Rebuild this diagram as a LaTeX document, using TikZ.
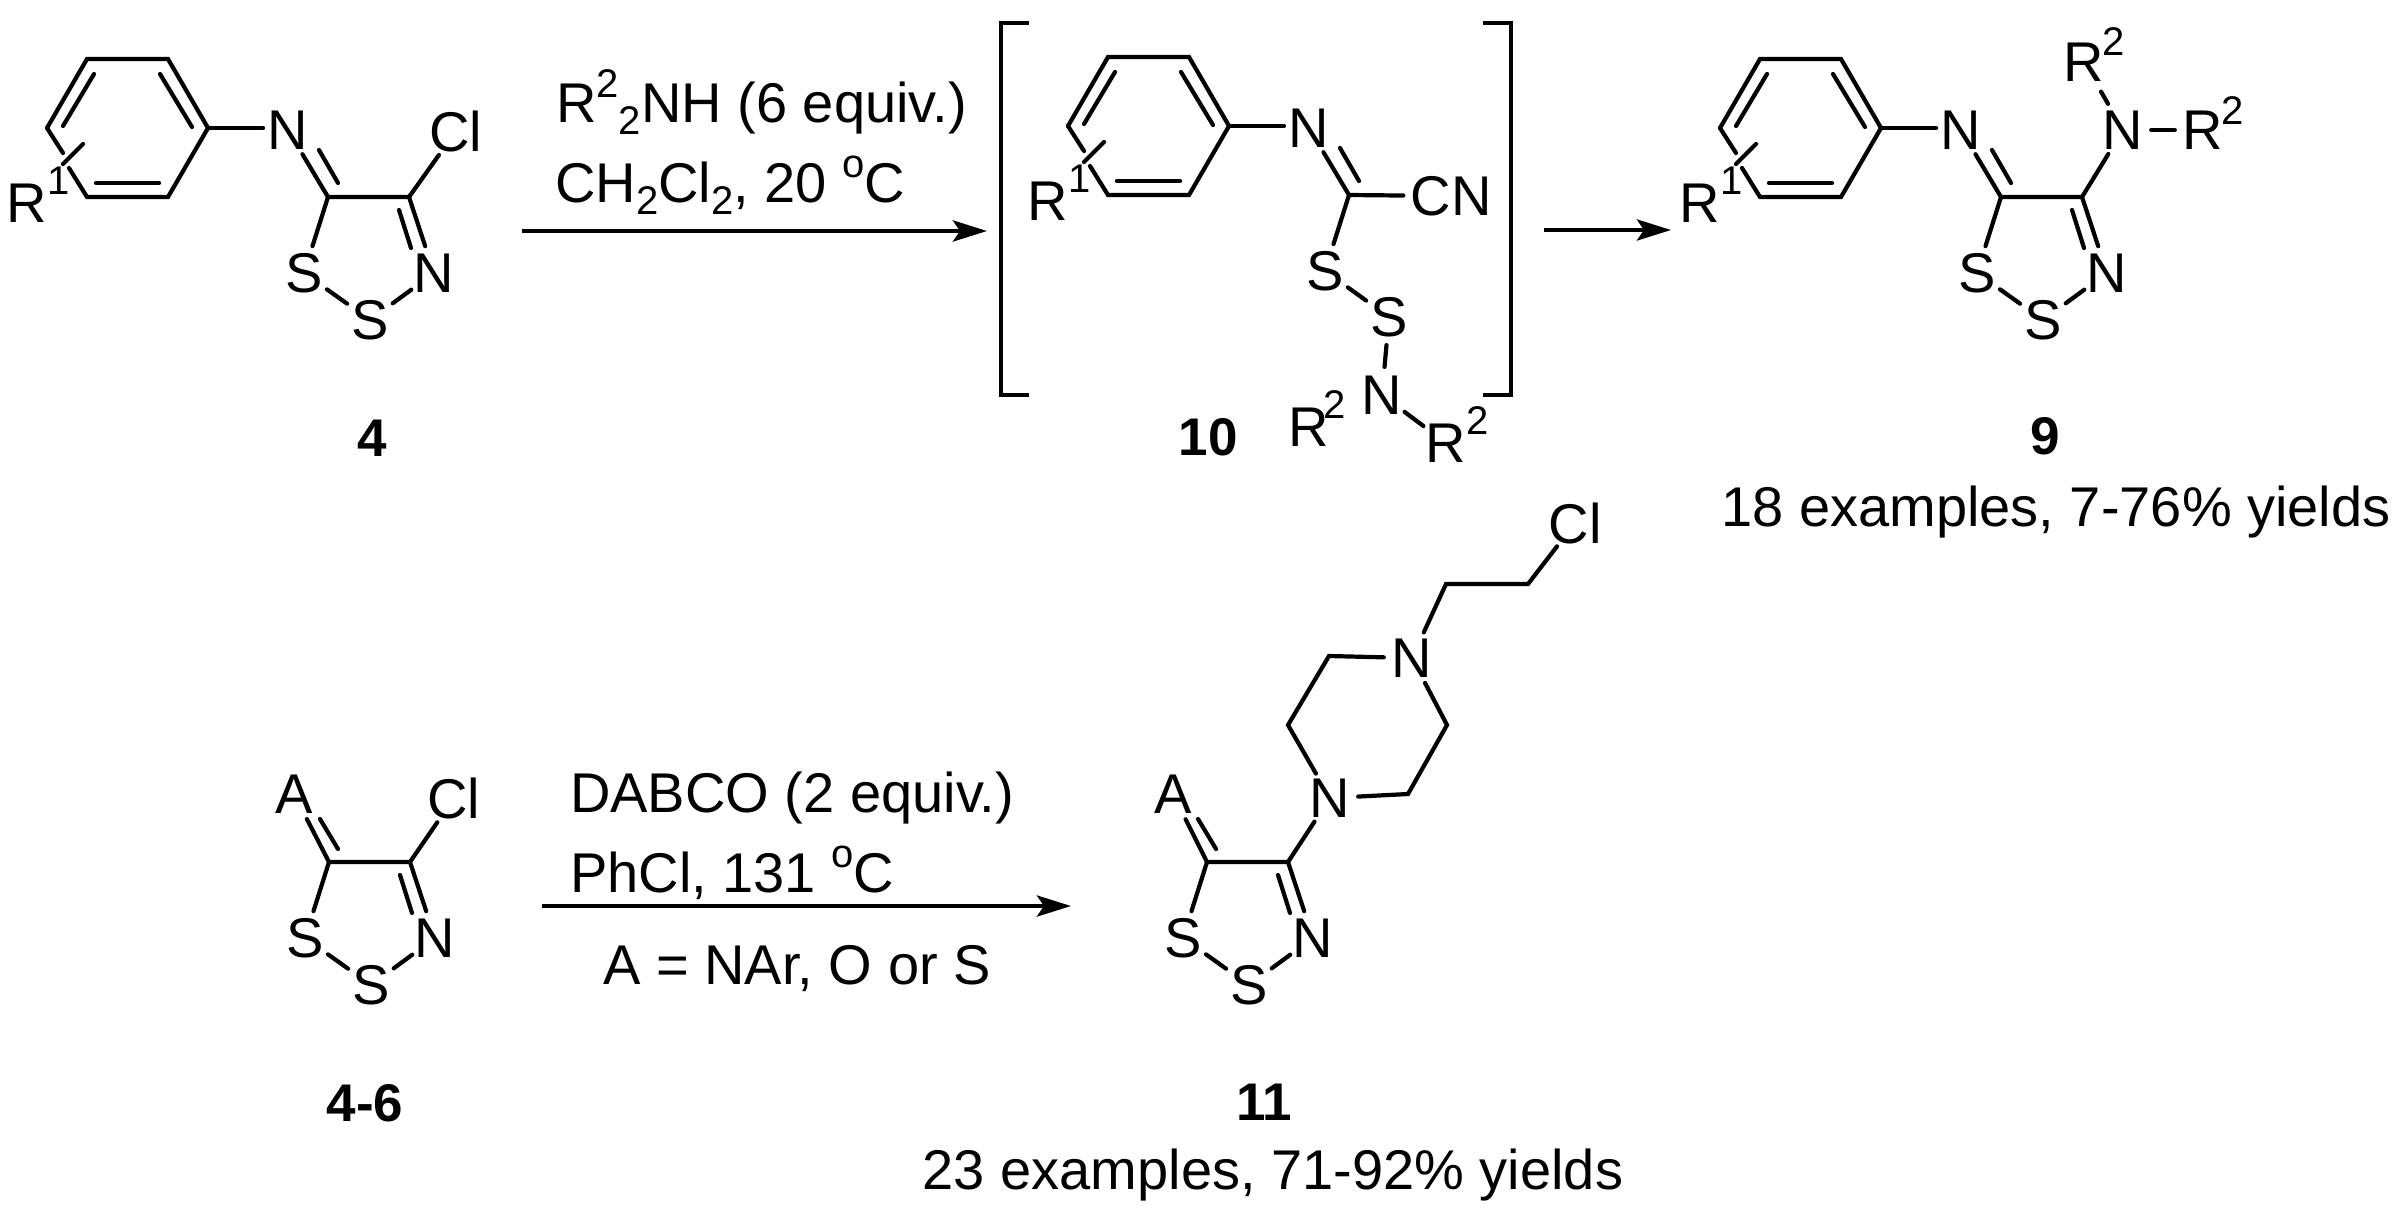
\documentclass[tikz,border=0pt]{standalone}
\usepackage{fontspec}
\setmainfont{Liberation Sans}
\usetikzlibrary{arrows.meta}
\newcommand\atomfont{\fontsize{56}{66}\selectfont}
\newcommand\cmpdfont{\fontsize{53}{60}\selectfont\bfseries}
\newcommand\minifont{\fontsize{40}{40}\selectfont}
\newcommand\upp[1]{\raisebox{25pt}{\minifont #1}}
\newcommand\dwn[1]{\raisebox{-12pt}{\minifont #1}}
\tikzset{
  bond/.style={line width=4.2pt,line cap=round,line join=miter},
  atom/.style={circle,inner sep=-3pt,minimum size=56pt,font=\atomfont},
  labelbox/.style={rectangle,inner xsep=7pt,inner ysep=0pt,font=\atomfont},
  supnum/.style={inner sep=0pt,font=\minifont},
  txt/.style={anchor=base west,inner sep=0pt,font=\atomfont},
  ctxt/.style={anchor=base,inner sep=0pt,font=\atomfont},
  cmpd/.style={inner sep=0pt,font=\cmpdfont},
  rxn/.style={line width=4.6pt,-{Stealth[length=34pt,width=21pt,inset=7pt]}},
  brk/.style={line width=4pt,line cap=butt,line join=miter}
}
% aryl imine fragment, origin at the upper-left ring vertex
\newcommand\arylimine{%
  \coordinate (tl) at (0,0);
  \coordinate (tr) at (81,0);
  \coordinate (rr) at (121,69);
  \coordinate (br) at (81,138);
  \coordinate (bl) at (0,138);
  \coordinate (ll) at (-40,69);
  \coordinate (g1) at (-24,94);
  \coordinate (g2) at (-18,109);
  \coordinate (i1a) at (7,15);
  \coordinate (i1b) at (-24,67);
  \coordinate (i2a) at (73,15);
  \coordinate (i2b) at (105,68);
  \coordinate (i3a) at (9,124);
  \coordinate (i3b) at (72,124);
  \coordinate (sa) at (-4,85);
  \coordinate (sb) at (-24,105);
  \coordinate (cim) at (241,138);
  \coordinate (d1) at (232,91);
  \coordinate (d2) at (251,124);
  \coordinate (ne) at (176,69);
  \node[atom] (nim) at (201,71) {N};
  \node[atom] (r1) at (-60,144) {R};
  \node[supnum] (r1s) at (-28,122) {1};
  \draw[bond] (ll) -- (tl) -- (tr) -- (rr) -- (br) -- (bl) -- (g2);
  \draw[bond] (ll) -- (g1);
  \draw[bond] (i1a) -- (i1b);
  \draw[bond] (i2a) -- (i2b);
  \draw[bond] (i3a) -- (i3b);
  \draw[bond] (sa) -- (sb);
  \draw[bond] (rr) -- (ne);
  \draw[bond] (nim) -- (cim);
  \draw[bond] (d1) -- (d2);
}
% dithiazole ring, origin at C5
\newcommand\dithiazole{%
  \coordinate (c5) at (0,0);
  \coordinate (c4) at (81,0);
  \coordinate (e1) at (71,13);
  \coordinate (e2) at (83,51);
  \node[atom] (s1) at (-24,76) {S};
  \node[atom] (n3) at (106,76) {N};
  \node[atom] (s2) at (42,123) {S};
  \draw[bond] (s1) -- (c5) -- (c4) -- (n3);
  \draw[bond] (e1) -- (e2);
  \draw[bond] (s1) -- (s2);
  \draw[bond] (s2) -- (n3);
}
\begin{document}
\begin{tikzpicture}[x=1pt,y=-1pt]
\useasboundingbox (0,0) rectangle (2398,1210);

% compound 4
\begin{scope}[shift={(87,59)},name prefix=a-]\arylimine\end{scope}
\begin{scope}[shift={(328,197)},name prefix=a-]\dithiazole\end{scope}
\node[atom] (a-cl) at (456,131) {Cl};
\draw[bond] (a-c4) -- (a-cl);
\node[cmpd] (a-lab) at (372,438) {4};

% first reaction arrow
\coordinate (ar1s) at (522,231);
\coordinate (ar1e) at (987,231);
\draw[rxn] (ar1s) -- (ar1e);
\node[txt] (t1) at (556,122) {R\upp{2}\dwn{2}NH (6 equiv.)};
\node[txt] (t2) at (555,202) {CH\dwn{2}Cl\dwn{2}, 20 \upp{o}C};

% bracket
\coordinate (bl1) at (1029,23);
\coordinate (bl2) at (1001,23);
\coordinate (bl3) at (1001,395);
\coordinate (bl4) at (1029,395);
\coordinate (br1) at (1483,23);
\coordinate (br2) at (1511,23);
\coordinate (br3) at (1511,395);
\coordinate (br4) at (1483,395);
\draw[brk] (bl1) -- (bl2) -- (bl3) -- (bl4);
\draw[brk] (br1) -- (br2) -- (br3) -- (br4);

% compound 10
\begin{scope}[shift={(1108,57)},name prefix=b-]\arylimine\end{scope}
\node[labelbox] (b-cn) at (1451,196) {CN};
\node[atom] (b-s1) at (1325,271) {S};
\node[atom] (b-s2) at (1389,317) {S};
\node[atom] (b-n) at (1382,395) {N};
\node[atom] (b-r1) at (1309,427) {R};
\node[supnum] (b-r1s) at (1335,405) {2};
\node[atom] (b-r2) at (1446,443) {R};
\node[supnum] (b-r2s) at (1478,421) {2};
\draw[bond] (b-cim) -- (b-cn);
\draw[bond] (b-cim) -- (b-s1);
\draw[bond] (b-s1) -- (b-s2);
\draw[bond] (b-s2) -- (b-n);
\draw[bond] (b-n) -- (b-r2);
\node[cmpd] (b-lab) at (1208,437) {10};

% second arrow
\coordinate (ar2s) at (1544,230);
\coordinate (ar2e) at (1671,230);
\draw[rxn] (ar2s) -- (ar2e);

% compound 9
\begin{scope}[shift={(1760,59)},name prefix=c-]\arylimine\end{scope}
\begin{scope}[shift={(2001,197)},name prefix=c-]\dithiazole\end{scope}
\node[atom] (c-n) at (2123,130) {N};
\node[atom] (c-r1) at (2084,62) {R};
\node[supnum] (c-r1s) at (2114,42) {2};
\node[atom] (c-r2) at (2203,130) {R};
\node[supnum] (c-r2s) at (2233,111) {2};
\draw[bond] (c-c4) -- (c-n);
\draw[bond,shorten <=2pt,shorten >=6pt] (c-n) -- (c-r1);
\draw[bond] (c-n) -- (c-r2);
\node[cmpd] (c-lab) at (2045,436) {9};
\node[ctxt] (c-txt) at (2056,526) {18 examples, 7-76\% yields};

% compound 4-6
\begin{scope}[shift={(329,862)},name prefix=d-]\dithiazole\end{scope}
\node[atom] (d-a) at (294,794) {A};
\node[atom] (d-cl) at (454,798) {Cl};
\coordinate (d-f1) at (320,819);
\coordinate (d-f2) at (338,849);
\draw[bond] (d-c5) -- (d-a);
\draw[bond] (d-f1) -- (d-f2);
\draw[bond] (d-c4) -- (d-cl);
\node[cmpd] (d-lab) at (365,1103) {4-6};

% third arrow
\coordinate (ar3s) at (542,906);
\coordinate (ar3e) at (1071,906);
\draw[rxn] (ar3s) -- (ar3e);
\node[txt] (t3) at (570,812) {DABCO (2 equiv.)};
\node[txt] (t4) at (570,892) {PhCl, 131 \upp{o}C};
\node[ctxt] (t5) at (797,984) {A = NAr, O or S};

% compound 11
\begin{scope}[shift={(1207,862)},name prefix=e-]\dithiazole\end{scope}
\node[atom] (e-a) at (1173,794) {A};
\coordinate (e-f1) at (1198,819);
\coordinate (e-f2) at (1216,849);
\draw[bond] (e-c5) -- (e-a);
\draw[bond] (e-f1) -- (e-f2);
\node[atom] (e-n1) at (1330,798) {N};
\node[atom] (e-n2) at (1412,658) {N};
\coordinate (e-p1) at (1408,794);
\coordinate (e-p2) at (1447,725);
\coordinate (e-p3) at (1329,656);
\coordinate (e-p4) at (1288,725);
\coordinate (e-q1) at (1446,584);
\coordinate (e-q2) at (1528,584);
\node[atom] (e-cl) at (1575,523) {Cl};
\draw[bond] (e-c4) -- (e-n1);
\draw[bond] (e-n1) -- (e-p1) -- (e-p2) -- (e-n2);
\draw[bond] (e-n2) -- (e-p3) -- (e-p4) -- (e-n1);
\draw[bond] (e-n2) -- (e-q1) -- (e-q2) -- (e-cl);
\node[cmpd] (e-lab) at (1264,1102) {11};
\node[ctxt] (e-txt) at (1273,1189) {23 examples, 71-92\% yields};
\end{tikzpicture}
\end{document}
